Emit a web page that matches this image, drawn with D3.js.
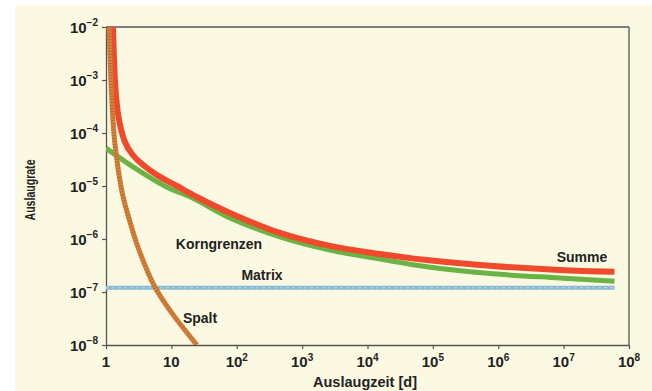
<!DOCTYPE html>
<html><head><meta charset="utf-8">
<script src="https://cdn.jsdelivr.net/npm/d3@7"></script>
<style>
html,body{margin:0;padding:0;background:#fff;}
svg{display:block;}
text{font-family:"Liberation Sans",Arial,sans-serif;font-weight:bold;fill:#222;}
</style></head>
<body>
<script>
// ---- data (t in days, rate) ----
const spaltT = [1.11, 1.19, 1.32, 1.47, 1.69, 1.88, 2.17, 3.08, 5.6, 10.2, 24.6];
const spaltV = [1e-2, 1e-3, 1e-4, 3.1e-5, 1e-5, 5.4e-6, 2.84e-6, 7.06e-7, 1.24e-7, 4.0e-8, 1e-8];

const summeT = [1.28, 1.32, 1.37, 1.47, 1.64, 1.95, 2.50, 3.55, 6.03, 12.2, 24.6, 78.7, 457, 2660, 15500, 81000, 8.3e5, 8.7e6, 6e7];
const summeV = [1e-2, 2.96e-3, 1e-3, 3.37e-4, 1.42e-4, 6.76e-5, 4.02e-5, 2.6e-5, 1.61e-5, 1.0e-5, 6.2e-6, 3.1e-6, 1.3e-6, 7.4e-7, 5.2e-7, 4.0e-7, 3.1e-7, 2.6e-7, 2.4e-7];

const kornT = [1, 2.59, 8.6, 21.4, 78.7, 457, 2660, 15500, 81000, 8.3e5, 8.7e6, 6e7];
const kornV = [5.2e-5, 2.3e-5, 9.5e-6, 5.9e-6, 2.5e-6, 1.1e-6, 6.2e-7, 4.2e-7, 3.0e-7, 2.2e-7, 1.84e-7, 1.6e-7];

const matrixT = [1, 10, 1e3, 1e5, 1e7, 6e7];
const matrixV = [1.2e-7, 1.2e-7, 1.2e-7, 1.2e-7, 1.2e-7, 1.2e-7];

const xTicks = [1, 10, 1e2, 1e3, 1e4, 1e5, 1e6, 1e7, 1e8];
const xTickExp = [null, null, "2", "3", "4", "5", "6", "7", "8"];
const xTickBase = ["1", "10", "10", "10", "10", "10", "10", "10", "10"];
const yTicks = [1e-2, 1e-3, 1e-4, 1e-5, 1e-6, 1e-7, 1e-8];
const yTickExp = ["\u22122", "\u22123", "\u22124", "\u22125", "\u22126", "\u22127", "\u22128"];

const seriesLabels = ["Summe", "Korngrenzen", "Matrix", "Spalt"];

// ---- layout ----
const W = 652, H = 391;
const svg = d3.select("body").append("svg").attr("width", W).attr("height", H);
svg.append("rect").attr("x", 0).attr("y", 0).attr("width", W).attr("height", H).attr("fill", "#ffffff");
svg.append("rect").attr("x", 15).attr("y", 5).attr("width", W - 15).attr("height", H - 5).attr("fill", "#fcf9e3");

const x = d3.scaleLog().domain([1, 1e8]).range([106, 629]);
const y = d3.scaleLog().domain([1e-8, 1e-2]).range([345, 27]);

const axisColor = "#555";

// frame top and right
svg.append("line").attr("x1", x(1)).attr("x2", x(1e8)).attr("y1", y(1e-2)).attr("y2", y(1e-2)).attr("stroke", axisColor).attr("stroke-width", 1.3);
svg.append("line").attr("x1", x(1e8)).attr("x2", x(1e8)).attr("y1", y(1e-2)).attr("y2", y(1e-8)).attr("stroke", axisColor).attr("stroke-width", 1.3);

// axes
const xAxis = d3.axisBottom(x).tickValues(xTicks).tickFormat("").tickSize(4).tickSizeOuter(0);
const gx = svg.append("g").attr("transform", `translate(0,${y(1e-8)})`).call(xAxis);
const yAxis = d3.axisLeft(y).tickValues(yTicks).tickFormat("").tickSize(4).tickSizeOuter(0);
const gy = svg.append("g").attr("transform", `translate(${x(1)},0)`).call(yAxis);
[gx, gy].forEach(g => {
  g.select(".domain").attr("stroke", axisColor).attr("stroke-width", 1.3);
  g.selectAll(".tick line").attr("stroke", axisColor).attr("stroke-width", 1.2);
});

// x tick labels
xTicks.forEach((t, i) => {
  const tx = svg.append("text").attr("x", x(t)).attr("y", 367).attr("text-anchor", "middle").style("font-size", "15px");
  tx.append("tspan").text(xTickBase[i]);
  if (xTickExp[i]) tx.append("tspan").attr("dy", -6).style("font-size", "10px").text(xTickExp[i]);
});
// y tick labels
yTicks.forEach((v, i) => {
  const ty = svg.append("text").attr("x", 98).attr("y", y(v) + 6).attr("text-anchor", "end").style("font-size", "15px");
  ty.append("tspan").text("10");
  ty.append("tspan").attr("dy", -7).style("font-size", "10px").text(yTickExp[i]);
});

// axis titles
svg.append("text").attr("x", 365).attr("y", 387).attr("text-anchor", "middle").style("font-size", "14px")
  .attr("textLength", 104).attr("lengthAdjust", "spacingAndGlyphs").text("Auslaugzeit [d]");
svg.append("text").attr("transform", "translate(35,190) rotate(-90)").attr("text-anchor", "middle").style("font-size", "15px")
  .attr("textLength", 61).attr("lengthAdjust", "spacingAndGlyphs").text("Auslaugrate");

// lines
const line = d3.line().x(d => x(d[0])).y(d => y(d[1])).curve(d3.curveCatmullRom.alpha(0.5));
svg.append("clipPath").attr("id", "plotclip").append("rect")
  .attr("x", x(1)).attr("y", y(1e-2)).attr("width", x(1e8) - x(1)).attr("height", y(1e-8) - y(1e-2));
const plot = svg.append("g").attr("clip-path", "url(#plotclip)");

const zip = (a, b) => a.map((t, i) => [t, b[i]]);
const matrixD = zip(matrixT, matrixV), kornD = zip(kornT, kornV), summeD = zip(summeT, summeV), spaltD = zip(spaltT, spaltV);

plot.append("path").datum(matrixD).attr("d", line).attr("fill", "none").attr("stroke", "#86b9d3").attr("stroke-width", 4);
plot.append("path").datum(matrixD).attr("d", line).attr("fill", "none").attr("stroke", "#ffffff").attr("stroke-opacity", 0.5).attr("stroke-width", 1).attr("stroke-dasharray", "3,3");

plot.append("path").datum(kornD).attr("d", line).attr("fill", "none").attr("stroke", "#6cb345").attr("stroke-width", 5);
plot.append("path").datum(summeD).attr("d", line).attr("fill", "none").attr("stroke", "#f04a2c").attr("stroke-width", 6);

plot.append("path").datum(spaltD).attr("d", line).attr("fill", "none").attr("stroke", "#d4823a").attr("stroke-width", 5);
plot.append("path").datum(spaltD).attr("d", line).attr("fill", "none").attr("stroke", "#8a4a1a").attr("stroke-opacity", 0.35).attr("stroke-width", 5).attr("stroke-dasharray", "1,2");

// series labels
const lab = (i, cx, by) => svg.append("text").attr("x", cx).attr("y", by).attr("text-anchor", "middle").style("font-size", "14px").text(seriesLabels[i]);
lab(0, 582, 262);
lab(1, 219, 249);
lab(2, 262, 280);
lab(3, 200, 323);
</script>
</body></html>
